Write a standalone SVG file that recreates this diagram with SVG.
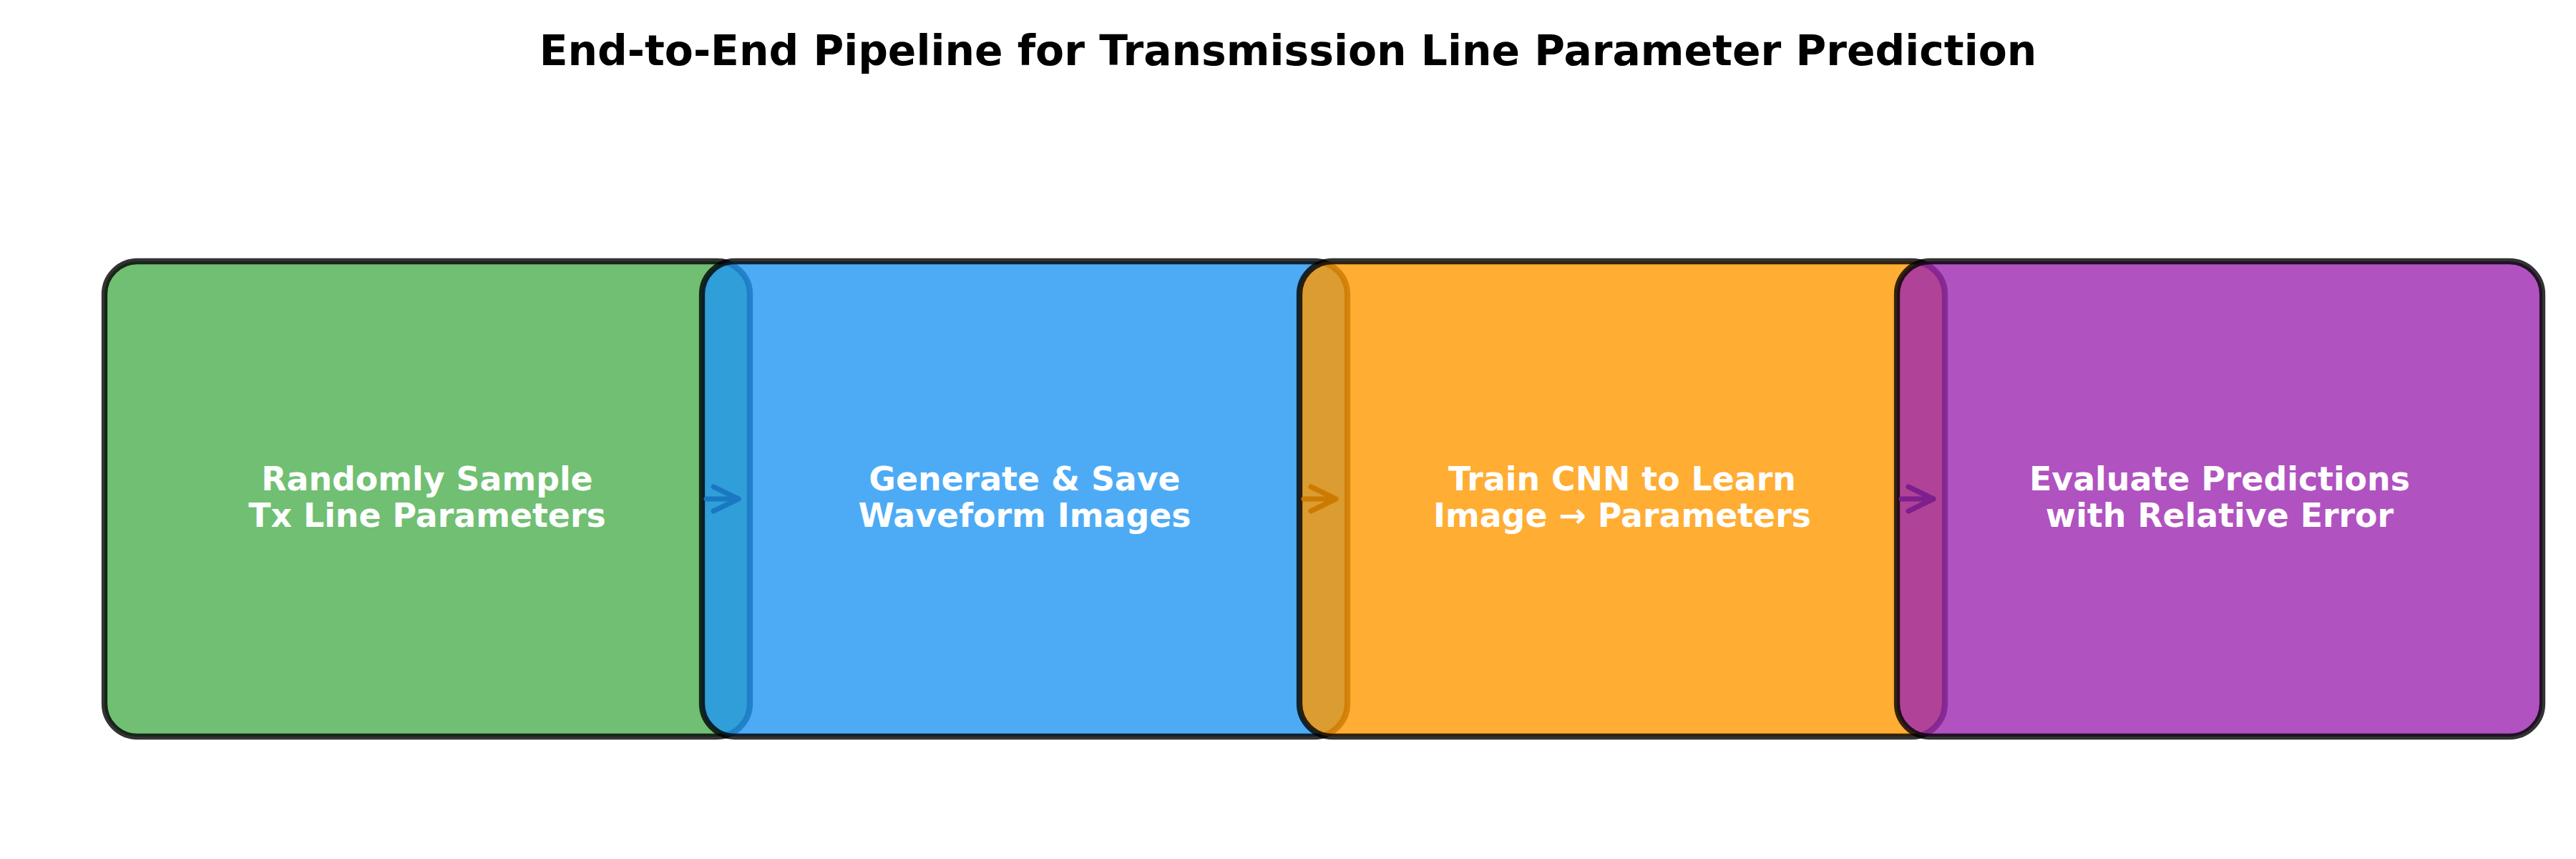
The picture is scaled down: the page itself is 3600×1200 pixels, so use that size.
<svg xmlns="http://www.w3.org/2000/svg" width="3600" height="1200" viewBox="0 0 3600 1200">
<style>
.box{stroke:#000;stroke-opacity:0.8;stroke-width:8.3;fill-opacity:0.8}
.lbl{font-family:"DejaVu Sans",sans-serif;font-weight:bold;font-size:45.8px;fill:#fff;text-anchor:middle}
.title{font-family:"DejaVu Sans",sans-serif;font-weight:bold;font-size:58.3px;fill:#000;text-anchor:middle}
.arr{fill:none;stroke-width:7;stroke-linecap:round;stroke-linejoin:round}
</style>
<rect width="3600" height="1200" fill="#fff"/>
<text class="title" x="1800" y="91">End-to-End Pipeline for Transmission Line Parameter Prediction</text>
<g id="nodes">
<g id="node1">
<rect class="box" x="146" y="365" width="902" height="664" rx="46" fill="#4CAF50"/>
<text class="lbl" x="597" y="685">Randomly Sample</text>
<text class="lbl" x="597" y="736">Tx Line Parameters</text>
</g>
<g id="node2">
<rect class="box" x="981" y="365" width="902" height="664" rx="46" fill="#2196F3"/>
<text class="lbl" x="1432" y="685">Generate &amp; Save</text>
<text class="lbl" x="1432" y="736">Waveform Images</text>
</g>
<g id="node3">
<rect class="box" x="1816" y="365" width="902" height="664" rx="46" fill="#FF9800"/>
<text class="lbl" x="2267" y="685">Train CNN to Learn</text>
<text class="lbl" x="2267" y="736">Image → Parameters</text>
</g>
<g id="node4">
<rect class="box" x="2651" y="365" width="902" height="664" rx="46" fill="#9C27B0"/>
<text class="lbl" x="3102" y="685">Evaluate Predictions</text>
<text class="lbl" x="3102" y="736">with Relative Error</text>
</g>
</g>
<g id="connectors">
<path class="arr" stroke="#1a78c2" d="M987 697H1032M997 680L1032 697L997 714"/>
<path class="arr" stroke="#cc7a00" d="M1822 697H1867M1832 680L1867 697L1832 714"/>
<path class="arr" stroke="#7d1f8d" d="M2657 697H2702M2667 680L2702 697L2667 714"/>
</g>
</svg>
